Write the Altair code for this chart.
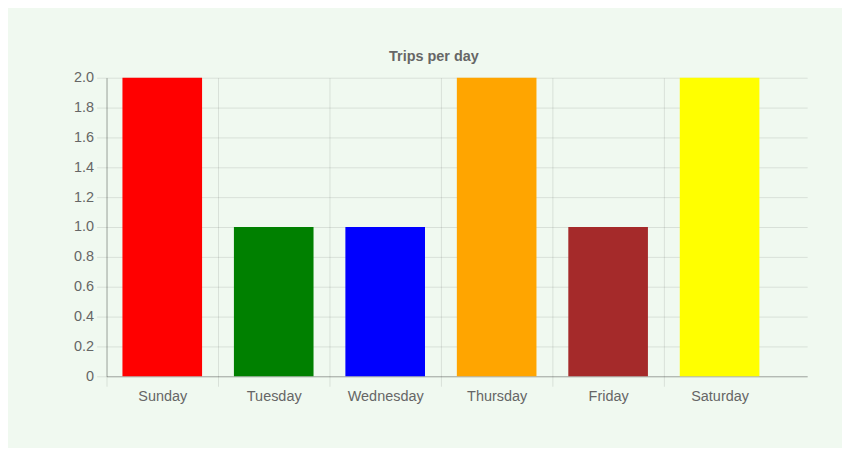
import altair as alt
import pandas as pd

days = ["Sunday", "Tuesday", "Wednesday", "Thursday", "Friday", "Saturday"]
trips = [2, 1, 1, 2, 1, 2]
colors = ["red", "green", "blue", "orange", "brown", "yellow"]
y_ticks = [0, 0.2, 0.4, 0.6, 0.8, 1.0, 1.2, 1.4, 1.6, 1.8, 2.0]

df = pd.DataFrame({"day": days, "trips": trips})

FONT = "Liberation Sans"
TXT = "#666666"

chart = (
    alt.Chart(df)
    .mark_bar(width=80)
    .encode(
        x=alt.X(
            "day:N",
            sort=days,
            scale=alt.Scale(paddingInner=0, paddingOuter=0.142857, align=0),
            axis=alt.Axis(
                title=None,
                tickOffset=-56,
                labelOffset=56,
                labelAngle=0,
                labelAlign="center",
                tickSize=10,
                labelPadding=3,
                grid=True,
                gridColor="#000000",
                gridOpacity=0.1,
                tickColor="#000000",
                tickOpacity=0.1,
                domainColor="#000000",
                domainOpacity=0.28,
                labelFont=FONT,
                labelFontSize=14.5,
                labelColor=TXT,
            ),
        ),
        y=alt.Y(
            "trips:Q",
            scale=alt.Scale(domain=[0, 2], nice=False),
            axis=alt.Axis(
                title=None,
                values=y_ticks,
                labelExpr="datum.value === 0 ? '0' : format(datum.value, '.1f')",
                tickSize=10,
                labelPadding=3,
                grid=True,
                gridColor="#000000",
                gridOpacity=0.1,
                tickColor="#000000",
                tickOpacity=0.1,
                domainColor="#000000",
                domainOpacity=0.28,
                labelFont=FONT,
                labelFontSize=14.5,
                labelColor=TXT,
            ),
        ),
        color=alt.Color(
            "day:N", scale=alt.Scale(domain=days, range=colors), legend=None
        ),
    )
    .properties(
        width=704,
        height=300,
        title=alt.TitleParams(
            "Trips per day",
            font=FONT,
            fontSize=14.5,
            fontWeight="bold",
            color=TXT,
            anchor="middle",
            frame="group",
            dx=-23,
            offset=5,
        ),
        autosize=alt.AutoSizeParams(type="none"),
        padding={"left": 99, "top": 69, "right": 35, "bottom": 71},
        background="#f0f9f0",
    )
    .configure_view(stroke=None)
)

chart.save("out.html", embed_options={"renderer": "svg", "actions": False})
